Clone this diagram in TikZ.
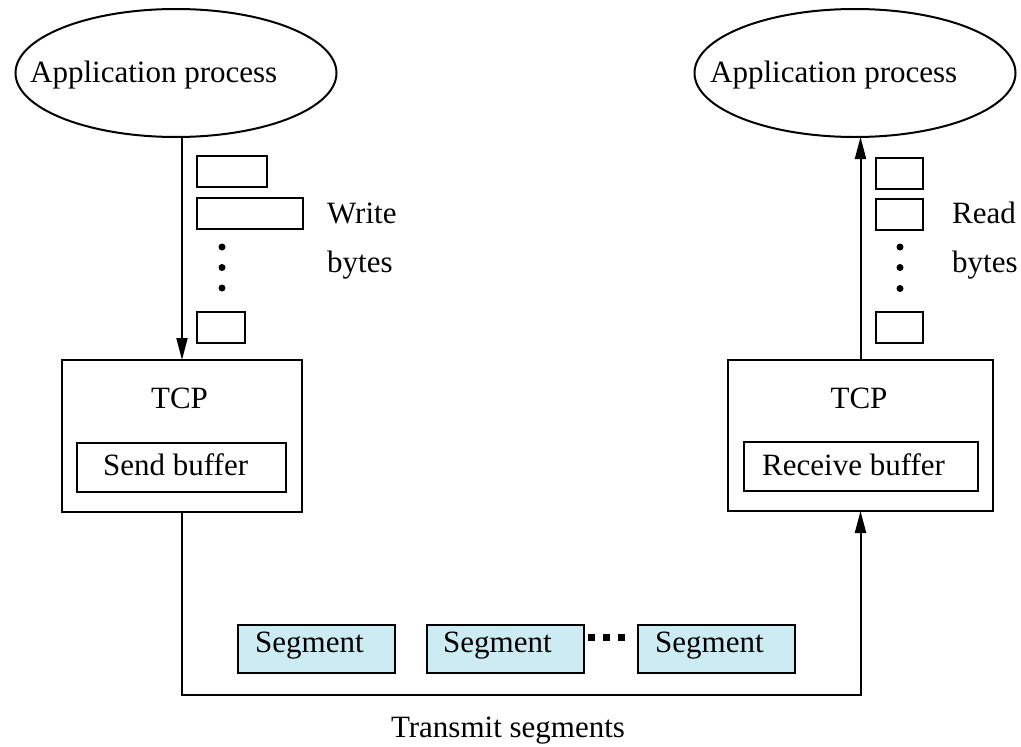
\documentclass[tikz,border=0pt]{standalone}
\usepackage{fontspec}
\setmainfont{Liberation Serif}
\usetikzlibrary{shapes.geometric,arrows.meta}
\definecolor{segfill}{RGB}{204,235,242}
\begin{document}
\begin{tikzpicture}[x=1pt,y=-1pt,
  font=\fontsize{31}{36}\selectfont,
  box/.style={draw, line width=2pt, inner sep=0pt, outer sep=0pt},
  seg/.style={box, fill=segfill, minimum width=157, minimum height=48},
  sbox/.style={box, minimum height=31},
  oval/.style={draw, line width=2pt, ellipse, inner sep=0pt, outer sep=0pt, minimum width=321, minimum height=128},
  txt/.style={inner sep=0pt, anchor=base west},
  ctxt/.style={inner sep=0pt, anchor=base},
  dot/.style={fill, circle, inner sep=0pt, minimum size=7},
  sq/.style={fill, rectangle, inner sep=0pt, minimum size=7},
  arr/.style={line width=2pt, -{Triangle[length=22pt,width=11pt]}},
  conn/.style={line width=2pt}]
\useasboundingbox (0,0) rectangle (1021,747);

% ellipses
\node[oval] (appL) at (176,73) {};
\node[oval] (appR) at (855,73) {};
\node[txt] (appLt) at (30,82) {Application process};
\node[txt] (appRt) at (710,82) {Application process};

% TCP boxes
\node[box, minimum width=240, minimum height=152] (tcpL) at (182,436) {};
\node[box, minimum width=265, minimum height=151] (tcpR) at (860.5,435.5) {};
\node[ctxt] (tcpLt) at (179.5,408) {TCP};
\node[ctxt] (tcpRt) at (859,408) {TCP};
\node[box, minimum width=209, minimum height=49] (sendb) at (181.5,467.5) {};
\node[txt] (sendt) at (103,475) {Send buffer};
\node[box, minimum width=234, minimum height=49] (recvb) at (861,466.5) {};
\node[txt] (recvt) at (762,475) {Receive buffer};

% write bytes
\node[sbox, minimum width=70] (w1) at (232,171.5) {};
\node[sbox, minimum width=106] (w2) at (250,213.5) {};
\node[sbox, minimum width=48] (w3) at (221,327.5) {};
\node[dot] (wd1) at (222,247) {};
\node[dot] (wd2) at (222,267.5) {};
\node[dot] (wd3) at (222,288) {};
\node[txt] (wt1) at (327,223) {Write};
\node[txt] (wt2) at (327,272) {bytes};

% read bytes
\node[sbox, minimum width=47] (r1) at (899.5,173) {};
\node[sbox, minimum width=47] (r2) at (899.5,214.5) {};
\node[sbox, minimum width=47] (r3) at (899.5,327.5) {};
\node[dot] (rd1) at (900,247) {};
\node[dot] (rd2) at (900,267.5) {};
\node[dot] (rd3) at (900,288.5) {};
\node[txt] (rt1) at (952,223) {Read};
\node[txt] (rt2) at (952,272) {bytes};

% segments
\node[seg] (s1) at (316.5,649) {};
\node[seg] (s2) at (505,649) {};
\node[seg] (s3) at (716.5,649) {};
\node[txt] (s1t) at (255,652) {Segment};
\node[txt] (s2t) at (443,652) {Segment};
\node[txt] (s3t) at (655,652) {Segment};
\node[sq] (q1) at (591.5,637.5) {};
\node[sq] (q2) at (606.5,637.5) {};
\node[sq] (q3) at (621.5,637.5) {};

\node[ctxt] (trans) at (508,737) {Transmit segments};

% connectors
\coordinate (bl) at (182,695);
\coordinate (br) at (860.5,695);
\draw[arr] (appL.south -| tcpL.north) -- (tcpL.north);
\draw[arr] (tcpL.south) -- (bl) -- (br) -- (tcpR.south);
\draw[arr] (tcpR.north) -- (appR.south -| tcpR.north);
\end{tikzpicture}
\end{document}
